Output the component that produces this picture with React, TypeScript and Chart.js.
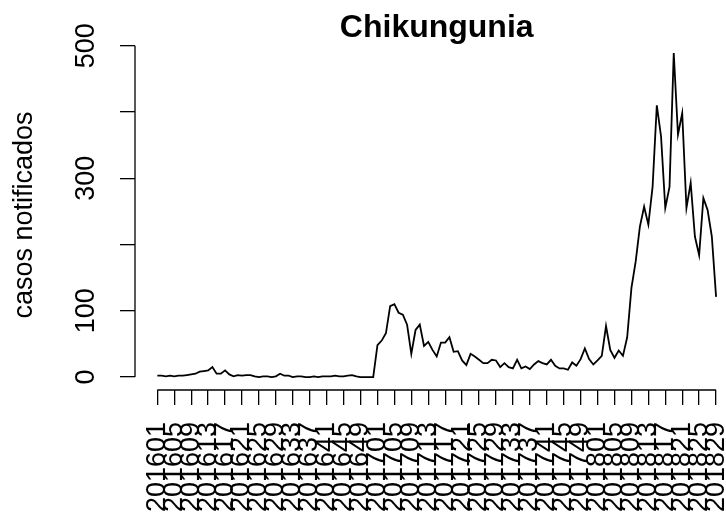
import { useEffect, useRef } from "react";
import { Chart, registerables } from "chart.js";

Chart.register(...registerables);

// epidemiological weeks (x categories)
const weeks = [
  "201601", "201602", "201603", "201604", "201605", "201606", "201607", "201608", "201609", "201610",
  "201611", "201612", "201613", "201614", "201615", "201616", "201617", "201618", "201619", "201620",
  "201621", "201622", "201623", "201624", "201625", "201626", "201627", "201628", "201629", "201630",
  "201631", "201632", "201633", "201634", "201635", "201636", "201637", "201638", "201639", "201640",
  "201641", "201642", "201643", "201644", "201645", "201646", "201647", "201648", "201649", "201650",
  "201651", "201652",
  "201701", "201702", "201703", "201704", "201705", "201706", "201707", "201708", "201709", "201710",
  "201711", "201712", "201713", "201714", "201715", "201716", "201717", "201718", "201719", "201720",
  "201721", "201722", "201723", "201724", "201725", "201726", "201727", "201728", "201729", "201730",
  "201731", "201732", "201733", "201734", "201735", "201736", "201737", "201738", "201739", "201740",
  "201741", "201742", "201743", "201744", "201745", "201746", "201747", "201748", "201749", "201750",
  "201751", "201752",
  "201801", "201802", "201803", "201804", "201805", "201806", "201807", "201808", "201809", "201810",
  "201811", "201812", "201813", "201814", "201815", "201816", "201817", "201818", "201819", "201820",
  "201821", "201822", "201823", "201824", "201825", "201826", "201827", "201828", "201829",
];

// notified cases per week
const cases = [
  2, 2, 1, 2, 1, 2, 2, 3, 4, 5,
  8, 9, 10, 15, 5, 5, 10, 4, 1, 3,
  2, 3, 3, 1, 0, 1, 1, 0, 1, 5,
  2, 2, 0, 1, 1, 0, 0, 1, 0, 1,
  1, 1, 2, 1, 1, 2, 3, 1, 0, 0,
  0, 0,
  48, 55, 66, 107, 110, 97, 94, 79, 35, 71,
  79, 47, 53, 41, 31, 52, 52, 60, 38, 39,
  25, 18, 35, 31, 26, 21, 21, 26, 25, 15,
  21, 15, 13, 26, 13, 16, 12, 19, 24, 21,
  19, 26, 17, 13, 13, 11, 22, 17, 27, 43,
  27, 19,
  25, 32, 77, 41, 29, 40, 32, 60, 134, 174,
  227, 257, 230, 287, 410, 363, 255, 287, 489, 366,
  398, 255, 293, 212, 184, 270, 252, 212, 121,
];

const xTickLabels = [
  "201601", "201605", "201609", "201613", "201617", "201621", "201625", "201629", "201633",
  "201637", "201641", "201645", "201649", "201701", "201705", "201709", "201713", "201717",
  "201721", "201725", "201729", "201733", "201737", "201741", "201745", "201749", "201801",
  "201805", "201809", "201813", "201817", "201821", "201825", "201829",
];

const yTickValues = [0, 100, 200, 300, 400, 500];
const yTickLabels = ["0", "100", "", "300", "", "500"];

const FONT = "'Liberation Sans', Arial, Helvetica, sans-serif";

// R pads the data range by 4% on each side
const X_MIN = -4.28;
const X_MAX = 134.4;
const X_REGION_MAX = 138.28;
const Y_MIN = -19.56;
const Y_MAX = 508.56;

const rAxesPlugin = {
  id: "rAxes",
  afterDraw(chart: any) {
    const { ctx, chartArea, scales } = chart;
    const xs = scales.x;
    const ys = scales.y;
    ctx.save();
    ctx.strokeStyle = "#000";
    ctx.lineWidth = 1.3;
    ctx.beginPath();
    ctx.moveTo(xs.getPixelForValue(1), chartArea.bottom);
    ctx.lineTo(xs.getPixelForValue(weeks.length), chartArea.bottom);
    ctx.moveTo(chartArea.left, ys.getPixelForValue(yTickValues[0]));
    ctx.lineTo(chartArea.left, ys.getPixelForValue(yTickValues[yTickValues.length - 1]));
    ctx.stroke();

    ctx.fillStyle = "#000";
    ctx.font = `bold 32px ${FONT}`;
    ctx.textAlign = "center";
    ctx.textBaseline = "alphabetic";
    const cx = (xs.getPixelForValue(X_MIN) + xs.getPixelForValue(X_REGION_MAX)) / 2;
    ctx.fillText("Chikungunia", cx, 36.5);
    ctx.restore();
  },
};

const App = () => {
  const chartRef = useRef<HTMLCanvasElement | null>(null);

  useEffect(() => {
    if (!chartRef.current) return;

    const chartInstance = new Chart(chartRef.current, {
      type: "line",
      data: {
        datasets: [
          {
            label: "casos notificados",
            data: cases.map((v, i) => ({ x: i + 1, y: v })),
            borderColor: "#000",
            borderWidth: 1.8,
            pointRadius: 0,
            tension: 0,
            fill: false,
          },
        ],
      },
      options: {
        responsive: true,
        maintainAspectRatio: false,
        animation: false,
        layout: { padding: { top: 40, right: 4, left: 0, bottom: 0 } },
        plugins: {
          legend: { display: false },
          title: { display: false },
          tooltip: { enabled: false },
        },
        scales: {
          x: {
            type: "linear",
            min: X_MIN,
            max: X_MAX,
            afterBuildTicks: (scale: any) => {
              scale.ticks = xTickLabels.map((w) => ({ value: weeks.indexOf(w) + 1 }));
            },
            afterFit: (scale: any) => {
              scale.height = 122;
              scale.paddingLeft = 0;
              scale.paddingRight = 0;
            },
            ticks: {
              autoSkip: false,
              minRotation: 90,
              maxRotation: 90,
              padding: 17,
              color: "#000",
              font: { family: FONT, size: 27 },
              callback: (value: any) => weeks[Math.round(Number(value)) - 1] ?? "",
            },
            grid: {
              display: true,
              drawOnChartArea: false,
              drawTicks: true,
              tickLength: 15,
              color: "#000",
              lineWidth: 1.3,
            },
            border: { display: false },
          },
          y: {
            type: "linear",
            min: Y_MIN,
            max: Y_MAX,
            afterBuildTicks: (scale: any) => {
              scale.ticks = yTickValues.map((v) => ({ value: v }));
            },
            afterFit: (scale: any) => {
              scale.width = 135;
              scale.paddingTop = 0;
              scale.paddingBottom = 0;
            },
            ticks: {
              autoSkip: false,
              minRotation: 90,
              maxRotation: 90,
              crossAlign: "center",
              padding: 11,
              color: "#000",
              font: { family: FONT, size: 27 },
              callback: (value: any) => yTickLabels[yTickValues.indexOf(Number(value))] ?? "",
            },
            grid: {
              display: true,
              drawOnChartArea: false,
              drawTicks: true,
              tickLength: 15,
              color: "#000",
              lineWidth: 1.3,
            },
            border: { display: false },
            title: {
              display: true,
              text: "casos notificados",
              color: "#000",
              font: { family: FONT, size: 27 },
              padding: { top: 8, bottom: 0 },
            },
          },
        },
      },
      plugins: [rAxesPlugin],
    });

    return () => chartInstance.destroy();
  }, []);

  return (
    <div style={{ position: "fixed", left: 0, top: 0, width: 726, height: 512, background: "#fff" }}>
      <canvas ref={chartRef}></canvas>
    </div>
  );
};

export default App;
